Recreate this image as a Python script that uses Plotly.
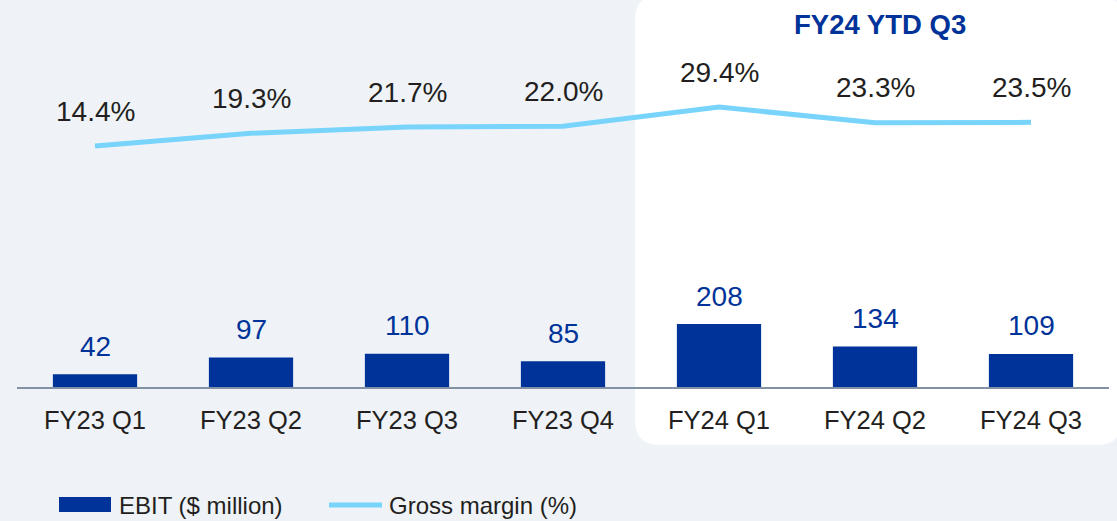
import plotly.graph_objects as go

# 데이터
quarters = ["FY23 Q1", "FY23 Q2", "FY23 Q3", "FY23 Q4", "FY24 Q1", "FY24 Q2", "FY24 Q3"]
ebit = [42, 97, 110, 85, 208, 134, 109]
gross_margin = [14.4, 19.3, 21.7, 22.0, 29.4, 23.3, 23.5]

BAR_COLOR = "#003399"
LINE_COLOR = "#78d4fb"
TEXT_COLOR = "#231f20"
BG_COLOR = "#eff3f7"
FONT = "Liberation Sans, Arial, sans-serif"

W, H = 1117, 521
ML, MR, MT, MB = 17, 8, 40, 134
PW, PH = W - ML - MR, H - MT - MB


def px_x(p):
    return (p - ML) / PW


def px_y(p):
    return (H - MB - p) / PH


fig = go.Figure()

fig.add_trace(go.Bar(
    x=quarters, y=ebit, name="EBIT ($ million)",
    marker=dict(color=BAR_COLOR, line=dict(width=0)),
    showlegend=False, hoverinfo="x+y",
))

fig.add_trace(go.Scatter(
    x=quarters, y=gross_margin, name="Gross margin (%)", yaxis="y2",
    mode="lines", line=dict(color=LINE_COLOR, width=5),
    showlegend=False,
))

annotations = []
for q, v in zip(quarters, ebit):
    annotations.append(dict(
        x=q, y=v, xref="x", yref="y", text=str(v), showarrow=False,
        yanchor="middle", yshift=28,
        font=dict(size=28, color=BAR_COLOR, family=FONT),
    ))
for q, v in zip(quarters, gross_margin):
    annotations.append(dict(
        x=q, y=v, xref="x", yref="y2", text=f"{v:.1f}%", showarrow=False,
        yanchor="middle", yshift=35,
        font=dict(size=28, color=TEXT_COLOR, family=FONT),
    ))

# 패널 제목
annotations.append(dict(
    x=px_x(880), y=px_y(24), xref="paper", yref="paper",
    text="<b>FY24 YTD Q3</b>", showarrow=False,
    xanchor="center", yanchor="middle",
    font=dict(size=27.5, color=BAR_COLOR, family=FONT),
))

# 범례 (수동)
annotations.append(dict(
    x=px_x(117), y=px_y(505), xref="paper", yref="paper",
    text="EBIT ($ million)", showarrow=False,
    xanchor="left", yanchor="middle",
    font=dict(size=24, color=TEXT_COLOR, family=FONT),
))
annotations.append(dict(
    x=px_x(387), y=px_y(505), xref="paper", yref="paper",
    text="Gross margin (%)", showarrow=False,
    xanchor="left", yanchor="middle",
    font=dict(size=24, color=TEXT_COLOR, family=FONT),
))

# FY24 흰색 둥근 패널
x0, x1 = px_x(635), px_x(1122)
y0, y1 = px_y(445), px_y(-5)
rx, ry = 25 / PW, 25 / PH
panel_path = (
    f"M {x0 + rx},{y1} L {x1 - rx},{y1} Q {x1},{y1} {x1},{y1 - ry} "
    f"L {x1},{y0 + ry} Q {x1},{y0} {x1 - rx},{y0} "
    f"L {x0 + rx},{y0} Q {x0},{y0} {x0},{y0 + ry} "
    f"L {x0},{y1 - ry} Q {x0},{y1} {x0 + rx},{y1} Z"
)
shapes = [
    dict(type="path", path=panel_path, xref="paper", yref="paper",
         fillcolor="white", line=dict(width=0), layer="below"),
    dict(type="rect", xref="paper", yref="paper",
         x0=px_x(59), x1=px_x(111), y0=px_y(512), y1=px_y(497),
         fillcolor=BAR_COLOR, line=dict(width=0)),
    dict(type="line", xref="paper", yref="paper",
         x0=px_x(329), x1=px_x(382), y0=px_y(505), y1=px_y(505),
         line=dict(color=LINE_COLOR, width=5)),
]

fig.update_layout(
    width=W, height=H,
    margin=dict(l=ML, r=MR, t=MT, b=MB),
    paper_bgcolor=BG_COLOR,
    plot_bgcolor="rgba(0,0,0,0)",
    bargap=0.46,
    font=dict(family=FONT, color=TEXT_COLOR),
    xaxis=dict(
        showline=True, linecolor="#8391a5", linewidth=1.5,
        showgrid=False, ticks="",
        tickfont=dict(size=25.5, color=TEXT_COLOR, family=FONT),
        ticklabelstandoff=10,
    ),
    yaxis=dict(range=[0, PH / (63 / 208)], visible=False, showgrid=False),
    yaxis2=dict(
        overlaying="y", visible=False, showgrid=False,
        range=[14.4 - (387 - 146) / 2.6, 14.4 + (146 - MT) / 2.6],
    ),
    annotations=annotations,
    shapes=shapes,
    showlegend=False,
)

# 페이지 기본 여백 제거
fig.write_html(
    "out.html",
    config={"displayModeBar": False},
    post_script="document.body.style.margin='0';document.body.style.overflow='hidden';",
)
